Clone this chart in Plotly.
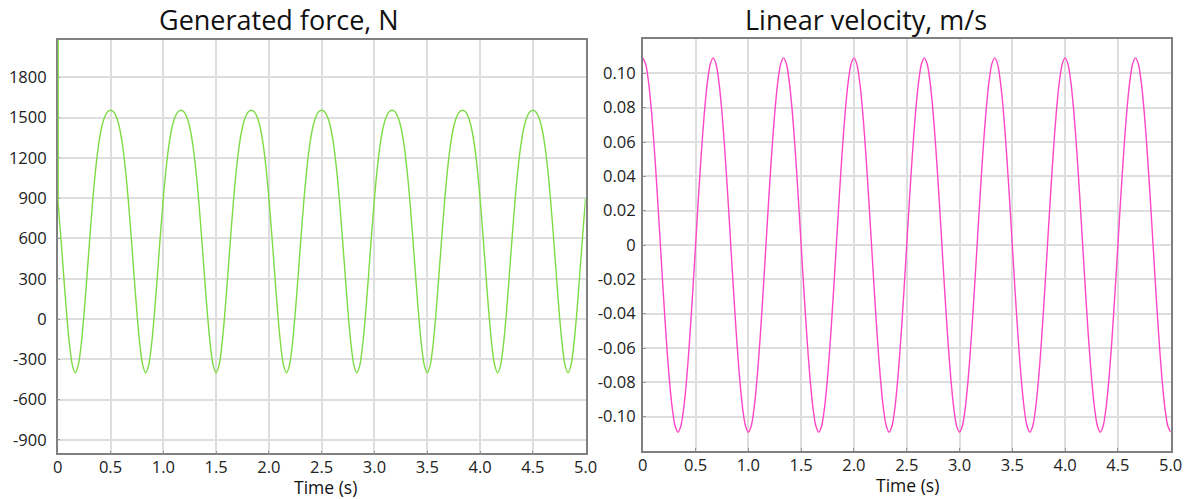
import numpy as np
import plotly.graph_objects as go

time_s = np.round(np.arange(181) / 36.0, 5)

force_N = [
    900, 625, 331, 48, -188, -345, -400, -345, -188, 48, 331, 625,
    900, 1131, 1308, 1430, 1505, 1543, 1555, 1543, 1505, 1430, 1308, 1131,
    900, 625, 331, 48, -188, -345, -400, -345, -188, 48, 331, 625,
    900, 1131, 1308, 1430, 1505, 1543, 1555, 1543, 1505, 1430, 1308, 1131,
    900, 625, 331, 48, -188, -345, -400, -345, -188, 48, 331, 625,
    900, 1131, 1308, 1430, 1505, 1543, 1555, 1543, 1505, 1430, 1308, 1131,
    900, 625, 331, 48, -188, -345, -400, -345, -188, 48, 331, 625,
    900, 1131, 1308, 1430, 1505, 1543, 1555, 1543, 1505, 1430, 1308, 1131,
    900, 625, 331, 48, -188, -345, -400, -345, -188, 48, 331, 625,
    900, 1131, 1308, 1430, 1505, 1543, 1555, 1543, 1505, 1430, 1308, 1131,
    900, 625, 331, 48, -188, -345, -400, -345, -188, 48, 331, 625,
    900, 1131, 1308, 1430, 1505, 1543, 1555, 1543, 1505, 1430, 1308, 1131,
    900, 625, 331, 48, -188, -345, -400, -345, -188, 48, 331, 625,
    900, 1131, 1308, 1430, 1505, 1543, 1555, 1543, 1505, 1430, 1308, 1131,
    900, 625, 331, 48, -188, -345, -400, -345, -188, 48, 331, 625,
    900,
]
# initial transient spike at t = 0
spike_time = [0.0, 0.0]
spike_force = [2300, 900]

velocity_ms = [
    0.109, 0.1053, 0.0944, 0.0771, 0.0545, 0.0282, 0.0, -0.0282, -0.0545, -0.0771, -0.0944, -0.1053,
    -0.109, -0.1053, -0.0944, -0.0771, -0.0545, -0.0282, 0.0, 0.0282, 0.0545, 0.0771, 0.0944, 0.1053,
    0.109, 0.1053, 0.0944, 0.0771, 0.0545, 0.0282, 0.0, -0.0282, -0.0545, -0.0771, -0.0944, -0.1053,
    -0.109, -0.1053, -0.0944, -0.0771, -0.0545, -0.0282, 0.0, 0.0282, 0.0545, 0.0771, 0.0944, 0.1053,
    0.109, 0.1053, 0.0944, 0.0771, 0.0545, 0.0282, 0.0, -0.0282, -0.0545, -0.0771, -0.0944, -0.1053,
    -0.109, -0.1053, -0.0944, -0.0771, -0.0545, -0.0282, 0.0, 0.0282, 0.0545, 0.0771, 0.0944, 0.1053,
    0.109, 0.1053, 0.0944, 0.0771, 0.0545, 0.0282, 0.0, -0.0282, -0.0545, -0.0771, -0.0944, -0.1053,
    -0.109, -0.1053, -0.0944, -0.0771, -0.0545, -0.0282, 0.0, 0.0282, 0.0545, 0.0771, 0.0944, 0.1053,
    0.109, 0.1053, 0.0944, 0.0771, 0.0545, 0.0282, 0.0, -0.0282, -0.0545, -0.0771, -0.0944, -0.1053,
    -0.109, -0.1053, -0.0944, -0.0771, -0.0545, -0.0282, 0.0, 0.0282, 0.0545, 0.0771, 0.0944, 0.1053,
    0.109, 0.1053, 0.0944, 0.0771, 0.0545, 0.0282, 0.0, -0.0282, -0.0545, -0.0771, -0.0944, -0.1053,
    -0.109, -0.1053, -0.0944, -0.0771, -0.0545, -0.0282, 0.0, 0.0282, 0.0545, 0.0771, 0.0944, 0.1053,
    0.109, 0.1053, 0.0944, 0.0771, 0.0545, 0.0282, 0.0, -0.0282, -0.0545, -0.0771, -0.0944, -0.1053,
    -0.109, -0.1053, -0.0944, -0.0771, -0.0545, -0.0282, 0.0, 0.0282, 0.0545, 0.0771, 0.0944, 0.1053,
    0.109, 0.1053, 0.0944, 0.0771, 0.0545, 0.0282, 0.0, -0.0282, -0.0545, -0.0771, -0.0944, -0.1053,
    -0.109,
]

x_tickvals = [0, 0.5, 1.0, 1.5, 2.0, 2.5, 3.0, 3.5, 4.0, 4.5, 5.0]
x_ticktext = ["0", "0.5", "1.0", "1.5", "2.0", "2.5", "3.0", "3.5", "4.0", "4.5", "5.0"]
force_tickvals = [-900, -600, -300, 0, 300, 600, 900, 1200, 1500, 1800]
force_ticktext = ["-900", "-600", "-300", "0", "300", "600", "900", "1200", "1500", "1800"]
vel_tickvals = [-0.10, -0.08, -0.06, -0.04, -0.02, 0, 0.02, 0.04, 0.06, 0.08, 0.10]
vel_ticktext = ["-0.10", "-0.08", "-0.06", "-0.04", "-0.02", "0", "0.02", "0.04", "0.06", "0.08", "0.10"]

titles = ["Generated force, N", "Linear velocity, m/s"]
x_title = "Time (s)"

GREEN = "#7ddc45"
PINK = "#ff45c8"
FONT = "Open Sans"
W, H = 1194, 499

fig = go.Figure()
fig.add_trace(go.Scatter(x=time_s, y=force_N, mode="lines",
                         line=dict(color=GREEN, width=1.4, shape="spline", smoothing=0.8),
                         xaxis="x", yaxis="y", showlegend=False, cliponaxis=True))
fig.add_trace(go.Scatter(x=spike_time, y=spike_force, mode="lines",
                         line=dict(color=GREEN, width=2.2), xaxis="x", yaxis="y",
                         showlegend=False, hoverinfo="skip", cliponaxis=False))
fig.add_trace(go.Scatter(x=time_s, y=velocity_ms, mode="lines",
                         line=dict(color=PINK, width=1.4, shape="spline", smoothing=0.8),
                         xaxis="x2", yaxis="y2", showlegend=False))

axis_common = dict(showline=True, mirror=True, linecolor="#808080", linewidth=1.5,
                   showgrid=True, gridcolor="#dedede", gridwidth=1.5, zeroline=False,
                   tickfont=dict(family=FONT, size=16.5, color="#222"),
                   ticks="inside", ticklen=3, tickcolor="#999", layer="below traces")

fig.update_layout(
    width=W, height=H,
    margin=dict(l=0, r=0, t=0, b=0),
    paper_bgcolor="white", plot_bgcolor="white",
    font=dict(family=FONT, color="#111"),
    xaxis=dict(domain=[53.5 / W, 589 / W], range=[0, 5], tickvals=x_tickvals,
               ticktext=x_ticktext, anchor="y", ticklabelstandoff=-2, **axis_common),
    yaxis=dict(domain=[1 - 453.3 / H, 1 - 40 / H], range=[-1000, 2078],
               tickvals=force_tickvals, ticktext=force_ticktext, anchor="x",
               ticklabelstandoff=6, **axis_common),
    xaxis2=dict(domain=[647 / W, 1182.5 / W], range=[0, 5], tickvals=x_tickvals,
                ticktext=x_ticktext, anchor="y2", ticklabelstandoff=-2, **axis_common),
    yaxis2=dict(domain=[1 - 451 / H, 1 - 39 / H], range=[-0.12, 0.12],
                tickvals=vel_tickvals, ticktext=vel_ticktext, anchor="x2",
                ticklabelstandoff=2, **axis_common),
    annotations=[
        dict(text=titles[0], x=278 / W, y=1 - 19 / H, xref="paper", yref="paper",
             showarrow=False, xanchor="center", yanchor="middle",
             font=dict(family=FONT, size=27, color="#111")),
        dict(text=titles[1], x=873 / W, y=1 - 19 / H, xref="paper", yref="paper",
             showarrow=False, xanchor="center", yanchor="middle",
             font=dict(family=FONT, size=27, color="#111")),
        dict(text=x_title, x=325 / W, y=1 - 486.5 / H, xref="paper", yref="paper",
             showarrow=False, xanchor="center", yanchor="middle",
             font=dict(family=FONT, size=17.5, color="#111")),
        dict(text=x_title, x=916 / W, y=1 - 484.5 / H, xref="paper", yref="paper",
             showarrow=False, xanchor="center", yanchor="middle",
             font=dict(family=FONT, size=17.5, color="#111")),
    ],
)

fig.write_html("out.html")
